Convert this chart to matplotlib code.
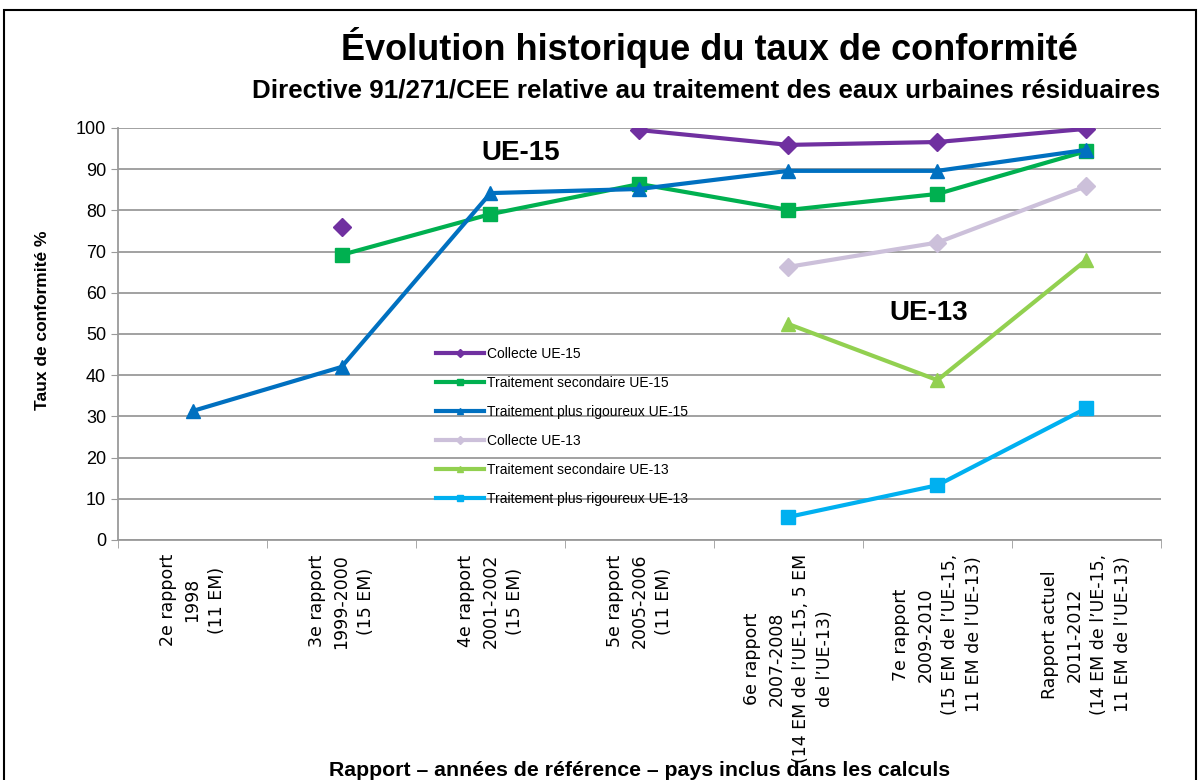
import numpy as np
import matplotlib
matplotlib.use("Agg")
import matplotlib.pyplot as plt
from matplotlib.patches import Rectangle

nan = np.nan

categories = [
    "2e rapport\n1998\n(11 EM)",
    "3e rapport\n1999-2000\n(15 EM)",
    "4e rapport\n2001-2002\n(15 EM)",
    "5e rapport\n2005-2006\n(11 EM)",
    "6e rapport\n2007-2008\n(14 EM de l\u2019UE-15, 5 EM\nde l\u2019UE-13)",
    "7e rapport\n2009-2010\n(15 EM de l\u2019UE-15,\n11 EM de l\u2019UE-13)",
    "Rapport actuel\n2011-2012\n(14 EM de l\u2019UE-15,\n11 EM de l\u2019UE-13)",
]

collecte_ue15 = [nan, 76.0, nan, 99.5, 95.9, 96.6, 99.8]
secondaire_ue15 = [nan, 69.2, 79.1, 86.4, 80.1, 84.0, 94.4]
rigoureux_ue15 = [31.3, 42.0, 84.2, 85.2, 89.6, 89.6, 94.7]
collecte_ue13 = [nan, nan, nan, nan, 66.3, 72.2, 85.9]
secondaire_ue13 = [nan, nan, nan, nan, 52.4, 38.8, 68.0]
rigoureux_ue13 = [nan, nan, nan, nan, 5.6, 13.3, 32.0]

series = [
    ("Collecte UE-15", collecte_ue15, "#7030A0", "D"),
    ("Traitement secondaire UE-15", secondaire_ue15, "#00B050", "s"),
    ("Traitement plus rigoureux UE-15", rigoureux_ue15, "#0070C0", "^"),
    ("Collecte UE-13", collecte_ue13, "#CCC0DA", "D"),
    ("Traitement secondaire UE-13", secondaire_ue13, "#92D050", "^"),
    ("Traitement plus rigoureux UE-13", rigoureux_ue13, "#00B0F0", "s"),
]

font = "Liberation Sans"

W, H = 1198, 780
fig = plt.figure(figsize=(W / 100, H / 100), dpi=100)
ax = fig.add_axes([118 / W, 1 - 540 / H, (1161 - 118) / W, (540 - 128) / H])

x = np.arange(len(categories))
for name, vals, color, marker in series:
    ms = 10 if marker != "D" else 9
    ax.plot(x, vals, color=color, lw=3, marker=marker, ms=ms, label=name)

ax.set_xlim(-0.5, len(categories) - 0.5)
ax.set_ylim(0, 100)
ax.set_yticks(range(0, 101, 10))
ax.yaxis.grid(True, color="#9A9A9A", lw=1.3)
ax.set_axisbelow(True)
for s in ["top", "right"]:
    ax.spines[s].set_visible(False)
for s in ["left", "bottom"]:
    ax.spines[s].set_color("#9A9A9A")
    ax.spines[s].set_linewidth(1.3)
ax.tick_params(axis="y", colors="#9A9A9A", length=5, labelcolor="black",
               labelsize=13, labelfontfamily=font)

# category labels sit between boundary ticks
ax.set_xticks(x)
ax.set_xticks(np.arange(-0.5, len(categories)), minor=True)
ax.tick_params(axis="x", which="major", length=0, pad=10)
ax.tick_params(axis="x", which="minor", length=6, colors="#9A9A9A")
ax.set_xticklabels(categories, rotation=90, ha="center", va="top",
                   multialignment="center", fontsize=12.5, family="DejaVu Sans",
                   linespacing=1.45)

ax.text(2.2, 93.9, "UE-15", fontsize=20, fontweight="bold",
        family=font, ha="center", va="center")
ax.text(4.94, 55.1, "UE-13", fontsize=20, fontweight="bold",
        family=font, ha="center", va="center")

ax.legend(loc="upper left", bbox_to_anchor=(430 / W, 1 - 341 / H),
          bbox_transform=fig.transFigure, frameon=False,
          markerscale=0.45, handlelength=3.5, labelspacing=1.08,
          handletextpad=0.2, borderaxespad=0, prop={"family": font, "size": 10})

fig.text(709 / W, 1 - 47 / H, "\u00c9volution historique du taux de conformit\u00e9",
         fontsize=26, fontweight="bold", family=font, ha="center", va="center")
fig.text(706 / W, 1 - 91 / H,
         "Directive 91/271/CEE relative au traitement des eaux urbaines r\u00e9siduaires",
         fontsize=18.7, fontweight="bold", family=font, ha="center", va="center")
fig.text(43 / W, 1 - 320 / H, "Taux de conformit\u00e9 %", rotation=90,
         fontsize=12.5, fontweight="bold", family=font, ha="center", va="center")
fig.text(640 / W, 1 - 770 / H,
         "Rapport \u2013 ann\u00e9es de r\u00e9f\u00e9rence \u2013 pays inclus dans les calculs",
         fontsize=15.3, fontweight="bold", family=font, ha="center", va="center")

fig.patches.append(Rectangle((4 / W, -0.05), (1196 - 4) / W, 1.05 - 10 / H,
                             transform=fig.transFigure, fill=False,
                             edgecolor="black", lw=1.5))

fig.savefig("out.png", dpi=100)
